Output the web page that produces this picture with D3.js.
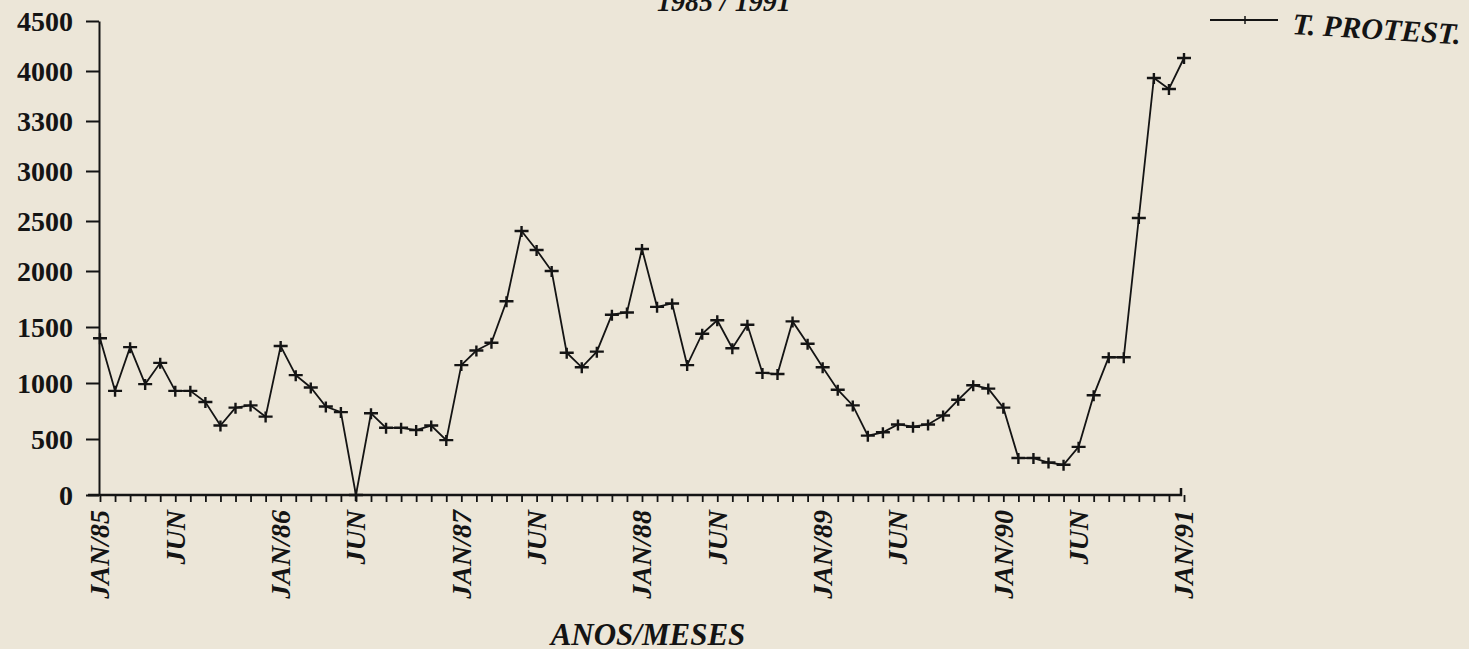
<!DOCTYPE html>
<html>
<head>
<meta charset="utf-8">
<script src="https://cdn.jsdelivr.net/npm/d3@7"></script>
<style>
  html, body { margin: 0; padding: 0; background: #ece6d8; }
  svg { display: block; }
</style>
</head>
<body>
<svg id="chart"></svg>
<script>
// protestos por mes, jan/85 a jan/91
const months = [
  'JAN/85', 'FEV/85', 'MAR/85', 'ABR/85', 'MAI/85', 'JUN/85', 'JUL/85', 'AGO/85', 'SET/85', 'OUT/85', 'NOV/85', 'DEZ/85',
  'JAN/86', 'FEV/86', 'MAR/86', 'ABR/86', 'MAI/86', 'JUN/86', 'JUL/86', 'AGO/86', 'SET/86', 'OUT/86', 'NOV/86', 'DEZ/86',
  'JAN/87', 'FEV/87', 'MAR/87', 'ABR/87', 'MAI/87', 'JUN/87', 'JUL/87', 'AGO/87', 'SET/87', 'OUT/87', 'NOV/87', 'DEZ/87',
  'JAN/88', 'FEV/88', 'MAR/88', 'ABR/88', 'MAI/88', 'JUN/88', 'JUL/88', 'AGO/88', 'SET/88', 'OUT/88', 'NOV/88', 'DEZ/88',
  'JAN/89', 'FEV/89', 'MAR/89', 'ABR/89', 'MAI/89', 'JUN/89', 'JUL/89', 'AGO/89', 'SET/89', 'OUT/89', 'NOV/89', 'DEZ/89',
  'JAN/90', 'FEV/90', 'MAR/90', 'ABR/90', 'MAI/90', 'JUN/90', 'JUL/90', 'AGO/90', 'SET/90', 'OUT/90', 'NOV/90', 'DEZ/90',
  'JAN/91'
];
const protestos = [
  1400, 930, 1320, 990, 1180, 930, 930, 830, 620, 780, 800, 700,
  1330, 1070, 960, 790, 740, 0, 730, 600, 600, 580, 620, 490,
  1160, 1290, 1360, 1730, 2400, 2210, 2000, 1270, 1140, 1280, 1610, 1630,
  2220, 1680, 1710, 1160, 1440, 1560, 1310, 1520, 1090, 1080, 1550, 1350,
  1140, 940, 800, 530, 560, 630, 610, 630, 710, 850, 980, 950,
  780, 330, 330, 290, 270, 430, 890, 1230, 1230, 2530, 3930, 3820,
  4130
];
const xLabels = {
  'JAN/85': 'JAN/85', 'JUN/85': 'JUN', 'JAN/86': 'JAN/86', 'JUN/86': 'JUN',
  'JAN/87': 'JAN/87', 'JUN/87': 'JUN', 'JAN/88': 'JAN/88', 'JUN/88': 'JUN',
  'JAN/89': 'JAN/89', 'JUN/89': 'JUN', 'JAN/90': 'JAN/90', 'JUN/90': 'JUN',
  'JAN/91': 'JAN/91'
};
const yTicks = [0, 500, 1000, 1500, 2000, 2500, 3000, 3500, 4000, 4500];
const yTickLabels = ['0', '500', '1000', '1500', '2000', '2500', '3000', '3300', '4000', '4500'];
const title = '1985 / 1991';
const seriesName = 'T. PROTEST.';

const W = 1469, H = 649;
const ink = '#141414';
const font = '"Liberation Serif", "DejaVu Serif", serif';

const svg = d3.select('#chart')
  .attr('width', W)
  .attr('height', H)
  .style('font-family', font);

const x = d3.scalePoint()
  .domain(months)
  .range([100, 1184]);

// the scanned sheet is slightly stretched in the lower half
const y = d3.scaleLinear()
  .domain([0, 2000, 4500])
  .range([495, 271, 21]);

// title, cut by the top edge
svg.append('text')
  .attr('x', 657)
  .attr('y', 11)
  .attr('fill', ink)
  .attr('font-size', 28)
  .attr('font-weight', 'bold')
  .attr('font-style', 'italic')
  .text(title);

// y axis
const yAxis = svg.append('g')
  .attr('transform', `translate(${x(months[0]) - 1}, 0)`)
  .call(d3.axisLeft(y)
    .tickValues(yTicks)
    .tickFormat((d, i) => yTickLabels[i])
    .tickSize(13)
    .tickSizeOuter(0)
    .tickPadding(13));

yAxis.select('.domain').attr('stroke', ink).attr('stroke-width', 2);
yAxis.selectAll('.tick line').attr('stroke', ink).attr('stroke-width', 2);
yAxis.selectAll('.tick text')
  .attr('fill', ink)
  .attr('font-family', font)
  .attr('font-size', 28)
  .attr('font-weight', 'bold')
  .attr('dy', '0.34em');

// x axis, one tick per month
const xAxis = svg.append('g')
  .attr('transform', `translate(0, ${y(0)})`)
  .call(d3.axisBottom(x)
    .tickFormat(d => xLabels[d] || '')
    .tickSize(7)
    .tickSizeOuter(0)
    .tickPadding(9));

xAxis.select('.domain')
  .attr('stroke', ink)
  .attr('stroke-width', 2.5)
  .attr('d', `M88,0H${x(months[months.length - 1]) - 3}V-7`);
xAxis.selectAll('.tick line').attr('stroke', ink).attr('stroke-width', 1.8);
xAxis.selectAll('.tick text')
  .attr('fill', ink)
  .attr('font-family', font)
  .attr('font-size', 28)
  .attr('font-weight', 'bold')
  .attr('font-style', 'italic')
  .attr('text-anchor', 'end')
  .attr('transform', 'rotate(-90)')
  .attr('x', -15)
  .attr('y', 0)
  .attr('dy', '0.32em')
  .attr('dx', 0);

svg.append('text')
  .attr('x', 648)
  .attr('y', 645)
  .attr('text-anchor', 'middle')
  .attr('fill', ink)
  .attr('font-size', 31)
  .attr('font-weight', 'bold')
  .attr('font-style', 'italic')
  .text('ANOS/MESES');

// series
const line = d3.line()
  .x((d, i) => x(months[i]))
  .y(d => y(d));

svg.append('path')
  .datum(protestos)
  .attr('fill', 'none')
  .attr('stroke', ink)
  .attr('stroke-width', 1.8)
  .attr('d', line);

const cross = 'M-7,0H7M0,-5V6';

svg.selectAll('.mark')
  .data(protestos)
  .enter().append('path')
  .attr('class', 'mark')
  .attr('transform', (d, i) => `translate(${x(months[i])}, ${y(d)})`)
  .attr('d', cross)
  .attr('fill', 'none')
  .attr('stroke', ink)
  .attr('stroke-width', 2.4);

// legend
const legend = svg.append('g');
legend.append('line')
  .attr('x1', 1210).attr('x2', 1278)
  .attr('y1', 20).attr('y2', 20)
  .attr('stroke', ink)
  .attr('stroke-width', 1.8);
legend.append('line')
  .attr('x1', 1245).attr('x2', 1245)
  .attr('y1', 16).attr('y2', 24)
  .attr('stroke', ink)
  .attr('stroke-width', 1.5);
legend.append('text')
  .attr('transform', 'translate(1292, 34) rotate(3.5)')
  .attr('fill', ink)
  .attr('font-size', 30)
  .attr('font-weight', 'bold')
  .attr('font-style', 'italic')
  .text(seriesName);
</script>
</body>
</html>
